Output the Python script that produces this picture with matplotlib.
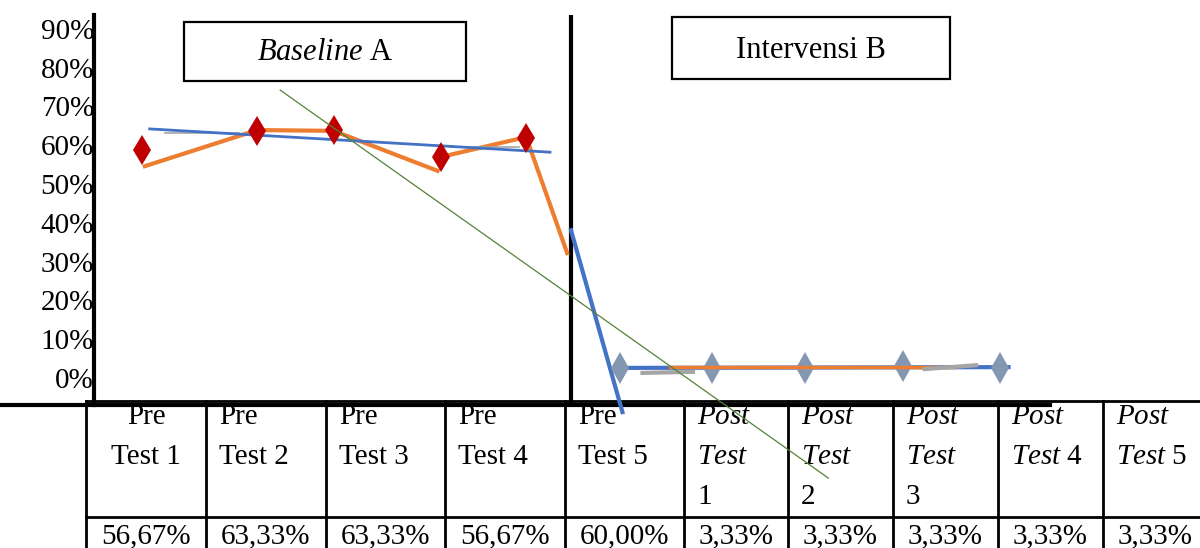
import matplotlib
matplotlib.use("Agg")
import matplotlib.pyplot as plt
from matplotlib.patches import Rectangle

plt.rcParams['font.family'] = ['Liberation Serif', 'DejaVu Serif']
plt.rcParams['mathtext.fontset'] = 'custom'
plt.rcParams['mathtext.rm'] = 'Liberation Serif'
plt.rcParams['mathtext.it'] = 'Liberation Serif:italic'

# Data; x = session position on the chart
base_x = [1.0, 2.21, 3.01, 4.14, 5.03]
base_y = [58.8, 63.7, 63.9, 57.0, 61.9]
post_x = [6.01, 6.98, 7.95, 8.98, 10.0]
post_y = [2.6, 2.6, 2.6, 3.1, 2.6]

orange_a1_x = [1.03, 2.21, 3.01, 4.10]
orange_a1_y = [54.6, 63.9, 63.7, 53.4]
orange_a2_x = [4.14, 5.03, 5.46]
orange_a2_y = [57.0, 62.1, 32.2]
trend_a_x = [1.08, 5.28]
trend_a_y = [64.2, 58.2]
gray_a1_x, gray_a1_y = [1.24, 2.02], [63.1, 63.1]
gray_a2_x, gray_a2_y = [4.23, 4.96], [59.5, 59.5]

drop_x, drop_y = [5.50, 6.04], [38.1, -8.8]
green_x, green_y = [2.45, 8.20], [74.2, -25.8]

post_blue_x, post_blue_y = [6.01, 10.09], [2.6, 2.8]
post_orange_x, post_orange_y = [6.54, 9.52], [2.8, 2.8]
gray_b1_x, gray_b1_y = [6.25, 6.78], [1.3, 1.6]
gray_b2_x, gray_b2_y = [9.21, 9.75], [2.3, 3.3]

phase_split = 5.5

# Table
pre_labels = [["Pre", "Test 1"], ["Pre", "Test 2"], ["Pre", "Test 3"],
              ["Pre", "Test 4"], ["Pre", "Test 5"]]
post_labels = [[r"$\mathit{Post}$", r"$\mathit{Test}$", "1"],
               [r"$\mathit{Post}$", r"$\mathit{Test}$", "2"],
               [r"$\mathit{Post}$", r"$\mathit{Test}$", "3"],
               [r"$\mathit{Post}$", r"$\mathit{Test}$ 4"],
               [r"$\mathit{Post}$", r"$\mathit{Test}$ 5"]]
values = ["56,67%", "63,33%", "63,33%", "56,67%", "60,00%",
          "3,33%", "3,33%", "3,33%", "3,33%", "3,33%"]
col_edges = [86, 206, 326, 445, 565, 684, 788, 893, 998, 1103, 1208]

W, H = 1200, 548
fig = plt.figure(figsize=(12, 5.48), dpi=100)

# overlay in pixel units for the table and the phase boxes
ov = fig.add_axes([0, 0, 1, 1])
ov.set_xlim(0, W)
ov.set_ylim(H, 0)
ov.axis('off')
ov.set_zorder(1)

ax = fig.add_axes([94 / W, 1 - 405 / H, (1050 - 94) / W, (405 - 15) / H])
ax.set_zorder(2)
ax.patch.set_visible(False)
ax.set_xlim(0.4965, 10.525)
ax.set_ylim(-6.96, 93.56)
for s in ['top', 'right', 'bottom']:
    ax.spines[s].set_visible(False)
ax.spines['left'].set_linewidth(3)
ax.set_xticks([])
ax.set_yticks(range(0, 91, 10))
ax.set_yticklabels([f"{v}%" for v in range(0, 91, 10)])
ax.tick_params(axis='y', length=0, pad=0, labelsize=21)

ax.plot([-94 / 956, 1], [0, 0], transform=ax.transAxes, color='black',
        lw=3, clip_on=False)
ax.axvline(phase_split, color='black', lw=3)

# baseline A
ax.plot(orange_a1_x, orange_a1_y, color='#ED7D31', lw=3)
ax.plot(orange_a2_x, orange_a2_y, color='#ED7D31', lw=3)
ax.plot(gray_a1_x, gray_a1_y, color='#A5A5A5', lw=1.2)
ax.plot(gray_a2_x, gray_a2_y, color='#A5A5A5', lw=1.2)
ax.plot(trend_a_x, trend_a_y, color='#4472C4', lw=2)
ax.plot(base_x, base_y, 'd', color='#C00000', ms=15, mew=0)

# intervention B
ax.plot(drop_x, drop_y, color='#4472C4', lw=3, clip_on=False)
ax.plot(post_blue_x, post_blue_y, color='#4472C4', lw=3)
ax.plot(post_x, post_y, 'd', color='#8497B0', ms=16, mew=0)
ax.plot(post_orange_x, post_orange_y, color='#ED7D31', lw=2.5)
ax.plot(gray_b1_x, gray_b1_y, color='#A5A5A5', lw=3)
ax.plot(gray_b2_x, gray_b2_y, color='#A5A5A5', lw=3)

ax.plot(green_x, green_y, color='#548235', lw=0.9, clip_on=False)

# phase boxes
ov.add_patch(Rectangle((184, 22), 282, 59, fill=False, lw=1.6, ec='black'))
ov.text(325, 52, r"$\mathit{Baseline}$ A", ha='center', va='center', fontsize=22)
ov.add_patch(Rectangle((672, 17), 278, 62, fill=False, lw=1.6, ec='black'))
ov.text(811, 50, "Intervensi B", ha='center', va='center', fontsize=22)

# table grid
ov.plot([col_edges[0], col_edges[-1]], [401, 401], color='black', lw=2)
ov.plot([col_edges[0], col_edges[-1]], [517, 517], color='black', lw=2)
for xe in col_edges:
    ov.plot([xe, xe], [401, H], color='black', lw=2)

line_y = [417, 457, 497]
for i, lab in enumerate(pre_labels + post_labels):
    left, right = col_edges[i], col_edges[i + 1]
    for j, txt in enumerate(lab):
        if i == 0:
            ov.text((left + right) / 2, line_y[j], txt, ha='center',
                    va='center', fontsize=21)
        else:
            ov.text(left + 13, line_y[j], txt, ha='left', va='center',
                    fontsize=21)
    ov.text((left + right) / 2, 536, values[i], ha='center', va='center',
            fontsize=21)

fig.savefig("out.png", dpi=100)
